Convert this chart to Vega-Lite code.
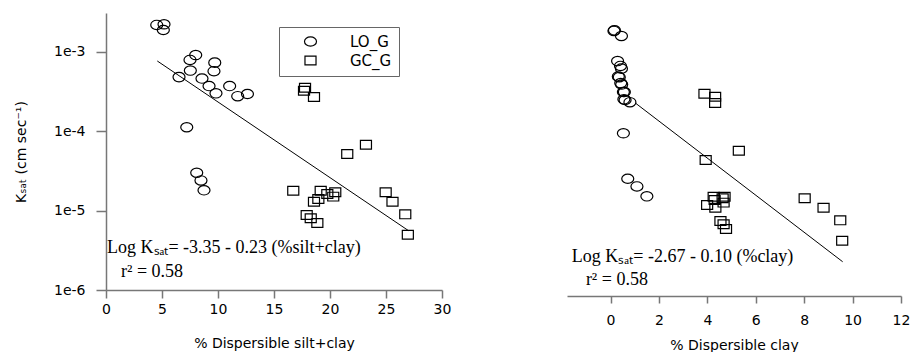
{
  "$schema": "https://vega.github.io/schema/vega-lite/v6.json",
  "background": "white",
  "padding": {"left": 14, "top": 13, "right": 0, "bottom": 0},
  "spacing": 125,
  "bounds": "flush",
  "resolve": {"scale": {"shape": "independent"}, "legend": {"shape": "independent"}},
  "datasets": {
    "samples": [
      {"group": "LO_G", "silt_clay": 5.18, "clay": 0.16, "ksat": 0.00222},
      {"group": "LO_G", "silt_clay": 4.53, "clay": 0.14, "ksat": 0.00218},
      {"group": "LO_G", "silt_clay": 5.12, "clay": 0.45, "ksat": 0.00188},
      {"group": "LO_G", "silt_clay": 8.01, "clay": 0.29, "ksat": 0.00091},
      {"group": "LO_G", "silt_clay": 7.50, "clay": 0.41, "ksat": 0.00079},
      {"group": "LO_G", "silt_clay": 9.71, "clay": 0.45, "ksat": 0.00073},
      {"group": "LO_G", "silt_clay": 7.53, "clay": 0.32, "ksat": 0.00058},
      {"group": "LO_G", "silt_clay": 9.64, "clay": 0.36, "ksat": 0.00057},
      {"group": "LO_G", "silt_clay": 6.52, "clay": 0.42, "ksat": 0.00048},
      {"group": "LO_G", "silt_clay": 8.57, "clay": 0.46, "ksat": 0.00046},
      {"group": "LO_G", "silt_clay": 11.04, "clay": 0.53, "ksat": 0.00037},
      {"group": "LO_G", "silt_clay": 9.20, "clay": 0.57, "ksat": 0.00037},
      {"group": "LO_G", "silt_clay": 9.82, "clay": 0.55, "ksat": 0.00030},
      {"group": "LO_G", "silt_clay": 12.63, "clay": 0.60, "ksat": 0.000294},
      {"group": "LO_G", "silt_clay": 11.76, "clay": 0.80, "ksat": 0.000276},
      {"group": "LO_G", "silt_clay": 7.21, "clay": 0.53, "ksat": 0.000112},
      {"group": "LO_G", "silt_clay": 8.10, "clay": 0.71, "ksat": 0.000030},
      {"group": "LO_G", "silt_clay": 8.48, "clay": 1.09, "ksat": 0.000024},
      {"group": "LO_G", "silt_clay": 8.75, "clay": 1.50, "ksat": 0.000018},
      {"group": "GC_G", "silt_clay": 17.77, "clay": 3.88, "ksat": 0.000353},
      {"group": "GC_G", "silt_clay": 17.68, "clay": 4.32, "ksat": 0.000324},
      {"group": "GC_G", "silt_clay": 18.57, "clay": 4.32, "ksat": 0.000270},
      {"group": "GC_G", "silt_clay": 21.54, "clay": 3.93, "ksat": 0.0000516},
      {"group": "GC_G", "silt_clay": 23.21, "clay": 5.30, "ksat": 0.0000676},
      {"group": "GC_G", "silt_clay": 16.72, "clay": 4.26, "ksat": 0.0000178},
      {"group": "GC_G", "silt_clay": 19.17, "clay": 4.71, "ksat": 0.0000178},
      {"group": "GC_G", "silt_clay": 20.47, "clay": 4.63, "ksat": 0.0000170},
      {"group": "GC_G", "silt_clay": 19.76, "clay": 4.30, "ksat": 0.0000162},
      {"group": "GC_G", "silt_clay": 20.29, "clay": 4.67, "ksat": 0.0000150},
      {"group": "GC_G", "silt_clay": 18.96, "clay": 3.99, "ksat": 0.0000140},
      {"group": "GC_G", "silt_clay": 18.57, "clay": 4.33, "ksat": 0.0000129},
      {"group": "GC_G", "silt_clay": 17.92, "clay": 4.54, "ksat": 0.0000088},
      {"group": "GC_G", "silt_clay": 18.28, "clay": 4.67, "ksat": 0.0000080},
      {"group": "GC_G", "silt_clay": 18.87, "clay": 4.77, "ksat": 0.00000698},
      {"group": "GC_G", "silt_clay": 24.97, "clay": 8.02, "ksat": 0.0000170},
      {"group": "GC_G", "silt_clay": 25.58, "clay": 8.80, "ksat": 0.0000129},
      {"group": "GC_G", "silt_clay": 26.72, "clay": 9.49, "ksat": 0.00000897},
      {"group": "GC_G", "silt_clay": 26.95, "clay": 9.57, "ksat": 0.00000497}
    ],
    "fit_left": [
      {"silt_clay": 4.58, "ksat": 0.000766},
      {"silt_clay": 27.0, "ksat": 0.0000056}
    ],
    "fit_right": [
      {"clay": 1.02, "ksat": 0.00027},
      {"clay": 9.59, "ksat": 0.0000027}
    ],
    "notes_left": [
      {"silt_clay": 0.09, "ksat": 0.00000292, "label": "Log Kₛₐₜ= -3.35 - 0.23 (%silt+clay)"},
      {"silt_clay": 1.34, "ksat": 0.00000146, "label": "r² = 0.58"}
    ],
    "notes_right": [
      {"clay": -1.6, "ksat": 0.00000268, "label": "Log Kₛₐₜ= -2.67 - 0.10 (%clay)"},
      {"clay": -1.02, "ksat": 0.00000138, "label": "r² = 0.58"}
    ]
  },
  "hconcat": [
    {
      "width": 336,
      "height": 277,
      "layer": [
        {
          "data": {"name": "samples"},
          "mark": {"type": "point", "filled": false, "stroke": "black", "strokeWidth": 1.2, "opacity": 1, "size": 144},
          "encoding": {
            "x": {
              "field": "silt_clay", "type": "quantitative",
              "scale": {"domain": [0, 30], "nice": false, "zero": false},
              "axis": {"values": [0, 5, 10, 15, 20, 25, 30], "tickSize": 8, "labelPadding": 4, "titlePadding": 20, "labelFlush": false, "labelOverlap": false, "title": "% Dispersible silt+clay"}
            },
            "y": {
              "field": "ksat", "type": "quantitative",
              "scale": {"type": "log", "domain": [0.000001, 0.00308], "nice": false},
              "axis": {"values": [0.000001, 0.00001, 0.0001, 0.001], "labelExpr": "'1e-' + round(-log(datum.value)/LN10)", "tickSize": 10, "labelPadding": 11, "titlePadding": 25, "labelOverlap": false, "title": "Kₛₐₜ (cm sec⁻¹)"}
            },
            "shape": {
              "field": "group", "type": "nominal",
              "scale": {"domain": ["LO_G", "GC_G"], "range": ["M-1,0A1,0.78,0,1,1,1,0A1,0.78,0,1,1,-1,0Z", "M-0.92,-0.73H0.92V0.73H-0.92Z"]},
              "legend": {
                "orient": "none", "legendX": 173, "legendY": 14, "title": null,
                "strokeColor": "#666", "padding": 7,
                "symbolOffset": 17, "labelOffset": 32, "rowPadding": 3,
                "labelFont": "DejaVu Sans", "labelFontSize": 15, "labelColor": "black",
                "symbolSize": 144, "symbolStrokeWidth": 1.2, "symbolStrokeColor": "black", "symbolFillColor": "white"
              }
            }
          }
        },
        {
          "data": {"name": "fit_left"},
          "mark": {"type": "line", "color": "black", "strokeWidth": 1},
          "encoding": {
            "x": {"field": "silt_clay", "type": "quantitative"},
            "y": {"field": "ksat", "type": "quantitative"}
          }
        },
        {
          "data": {"name": "notes_left"},
          "mark": {"type": "text", "align": "left", "baseline": "alphabetic", "font": "Liberation Serif", "fontSize": 18, "color": "black"},
          "encoding": {
            "x": {"field": "silt_clay", "type": "quantitative"},
            "y": {"field": "ksat", "type": "quantitative"},
            "text": {"field": "label", "type": "nominal"}
          }
        }
      ]
    },
    {
      "width": 334,
      "height": 283,
      "layer": [
        {
          "data": {"name": "samples"},
          "mark": {"type": "point", "filled": false, "stroke": "black", "strokeWidth": 1.2, "opacity": 1, "size": 144},
          "encoding": {
            "x": {
              "field": "clay", "type": "quantitative",
              "scale": {"domain": [-1.8, 12], "nice": false, "zero": false},
              "axis": {"values": [0, 2, 4, 6, 8, 10, 12], "tickSize": 7, "labelPadding": 10, "titlePadding": 11, "labelFlush": false, "labelOverlap": false, "title": "% Dispersible clay"}
            },
            "y": {
              "field": "ksat", "type": "quantitative",
              "scale": {"type": "log", "domain": [0.000001, 0.003666], "nice": false},
              "axis": null
            },
            "shape": {
              "field": "group", "type": "nominal",
              "scale": {"domain": ["LO_G", "GC_G"], "range": ["M-1,0A1,0.78,0,1,1,1,0A1,0.78,0,1,1,-1,0Z", "M-0.92,-0.73H0.92V0.73H-0.92Z"]},
              "legend": null
            }
          }
        },
        {
          "data": {"name": "fit_right"},
          "mark": {"type": "line", "color": "black", "strokeWidth": 1},
          "encoding": {
            "x": {"field": "clay", "type": "quantitative"},
            "y": {"field": "ksat", "type": "quantitative"}
          }
        },
        {
          "data": {"name": "notes_right"},
          "mark": {"type": "text", "align": "left", "baseline": "alphabetic", "font": "Liberation Serif", "fontSize": 18, "color": "black"},
          "encoding": {
            "x": {"field": "clay", "type": "quantitative"},
            "y": {"field": "ksat", "type": "quantitative"},
            "text": {"field": "label", "type": "nominal"}
          }
        }
      ]
    }
  ],
  "config": {
    "view": {"stroke": null},
    "axis": {
      "grid": false,
      "domainColor": "#777", "tickColor": "#777", "domainWidth": 1.5, "tickWidth": 1.5,
      "labelFont": "DejaVu Sans", "labelFontSize": 14, "labelColor": "black",
      "titleFont": "DejaVu Sans", "titleFontSize": 14, "titleFontWeight": "normal", "titleColor": "black"
    }
  }
}
